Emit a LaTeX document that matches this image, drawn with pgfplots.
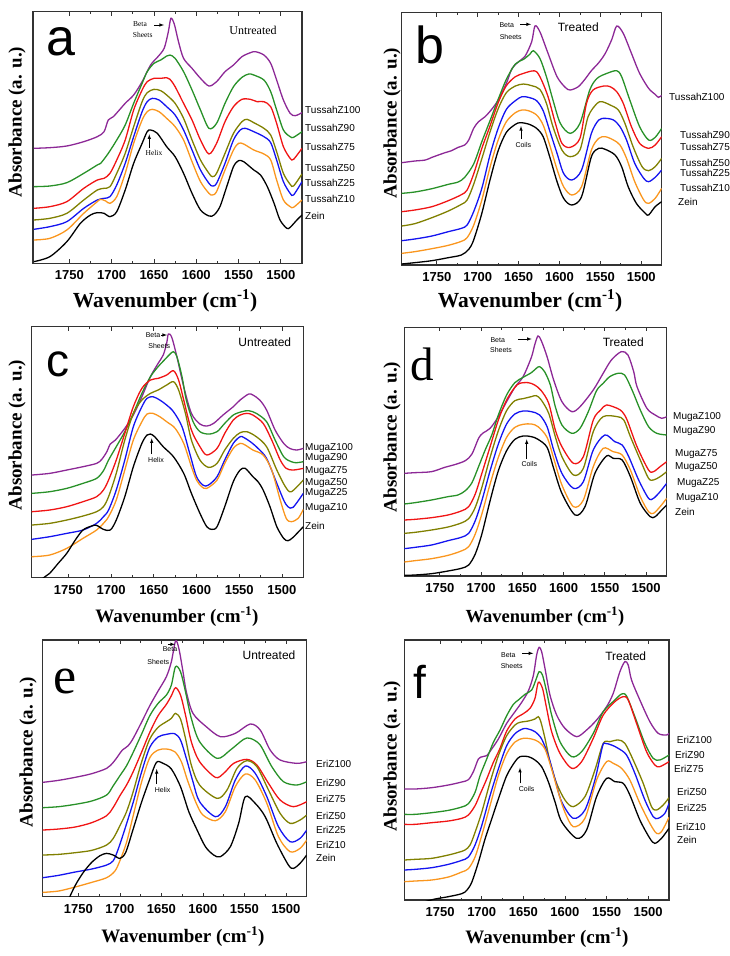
\documentclass[border=0pt]{standalone}
\usepackage{pgfplots}
\pgfplotsset{compat=1.18}
\usepackage{fontspec}
\setmainfont{Liberation Serif}
\setsansfont{Liberation Sans}

\definecolor{cP}{RGB}{140,40,150}
\definecolor{cG}{RGB}{40,145,40}
\definecolor{cR}{RGB}{240,20,20}
\definecolor{cO}{RGB}{128,128,0}
\definecolor{cB}{RGB}{20,20,240}
\definecolor{cY}{RGB}{250,150,30}
\definecolor{cK}{RGB}{0,0,0}

\pgfplotsset{
  panel/.style={
    scale only axis, x dir=reverse, xmin=1475, xmax=1793, ymin=0,
    xtick={1500,1550,...,1750}, minor x tick num=1, ytick=\empty,
    tick align=inside, major tick length=4pt, minor tick length=2.5pt,
    axis line style={line width=1.1pt, black!80},
    every tick/.style={black!80, line width=0.8pt},
    xticklabel style={font=\sffamily\bfseries\fontsize{13}{13}\selectfont, yshift=-4pt},
    /pgf/number format/assume math mode=true,
    /pgf/number format/1000 sep={},
    anchor=south west,
  },
  spec/.style={line width=1.3pt, smooth, tension=0.5},
}
\newcommand{\lab}{\sffamily\fontsize{10}{11}\selectfont}
\newcommand{\annot}{\sffamily\fontsize{7}{8}\selectfont}

\begin{document}
\begin{tikzpicture}
\useasboundingbox (0pt,0pt) rectangle (729pt,-956pt);

% ---------------- a: Tussah untreated
\begin{axis}[panel, at={(33pt,-263.3pt)}, width=269pt, height=251.6pt, ymax=755]
\addplot[spec,cP] coordinates {(1792,345)(1773,347)(1753,352)(1733,365)(1717,380)(1709,395)(1704,430)(1698,440)(1684,480)(1674,505)(1664,545)(1654,595)(1646,618)(1638,645)(1633,695)(1630,735)(1626,718)(1621,665)(1615,615)(1605,585)(1595,555)(1585,532)(1576,545)(1566,575)(1556,595)(1546,620)(1536,632)(1530,635)(1520,625)(1512,600)(1505,550)(1497,490)(1489,450)(1483,443)(1475,452)};
\addplot[spec,cG] coordinates {(1792,230)(1773,232)(1753,242)(1733,270)(1717,295)(1713,300)(1704,330)(1694,370)(1684,415)(1674,480)(1664,540)(1658,575)(1650,600)(1642,610)(1635,622)(1631,625)(1625,615)(1615,575)(1605,520)(1595,460)(1585,405)(1576,420)(1566,480)(1556,530)(1546,558)(1538,568)(1532,565)(1520,550)(1512,515)(1505,460)(1497,400)(1489,380)(1485,378)(1475,395)};
\addplot[spec,cR] coordinates {(1792,165)(1773,170)(1753,185)(1733,225)(1717,250)(1709,255)(1702,270)(1694,310)(1684,370)(1674,460)(1664,520)(1658,545)(1650,555)(1642,555)(1635,557)(1631,552)(1625,530)(1615,480)(1605,430)(1595,370)(1585,328)(1576,360)(1566,425)(1556,470)(1546,492)(1536,492)(1528,485)(1520,485)(1512,470)(1505,420)(1497,350)(1489,315)(1485,312)(1475,345)};
\addplot[spec,cO] coordinates {(1792,130)(1773,135)(1753,150)(1733,190)(1717,220)(1709,225)(1702,230)(1694,270)(1684,330)(1674,410)(1664,485)(1658,512)(1650,522)(1642,518)(1635,505)(1625,480)(1615,435)(1605,370)(1595,310)(1585,270)(1581,260)(1576,270)(1566,330)(1556,390)(1546,425)(1540,432)(1532,422)(1520,405)(1512,385)(1505,335)(1497,270)(1489,237)(1485,232)(1475,268)};
\addplot[spec,cB] coordinates {(1792,102)(1773,110)(1753,125)(1733,165)(1717,190)(1709,195)(1702,200)(1694,235)(1684,300)(1674,380)(1664,455)(1658,485)(1652,495)(1644,490)(1635,470)(1625,445)(1615,400)(1605,340)(1595,280)(1585,240)(1581,232)(1576,240)(1566,300)(1556,370)(1548,400)(1542,405)(1532,395)(1520,380)(1512,362)(1505,310)(1497,245)(1489,210)(1485,205)(1475,245)};
\addplot[spec,cY] coordinates {(1792,70)(1773,75)(1753,100)(1733,150)(1717,185)(1713,192)(1707,187)(1702,180)(1694,200)(1684,270)(1674,360)(1664,430)(1658,455)(1652,462)(1644,455)(1635,435)(1625,410)(1615,370)(1605,305)(1595,245)(1585,210)(1581,205)(1576,215)(1566,280)(1556,340)(1550,360)(1544,358)(1532,340)(1520,328)(1512,310)(1505,250)(1497,190)(1489,170)(1485,168)(1475,190)};
\addplot[spec,cK] coordinates {(1792,5)(1773,20)(1753,65)(1737,120)(1725,145)(1717,152)(1709,150)(1702,140)(1694,155)(1684,220)(1674,300)(1664,360)(1658,395)(1654,400)(1646,390)(1635,350)(1625,320)(1615,270)(1605,210)(1595,160)(1585,142)(1579,145)(1572,170)(1564,230)(1556,290)(1550,308)(1544,305)(1532,280)(1524,265)(1516,230)(1508,180)(1501,130)(1493,105)(1489,108)(1481,130)(1475,145)};
\end{axis}

% ---------------- b: Tussah treated
\begin{axis}[panel, at={(401.7pt,-265pt)}, width=260pt, height=252.3pt, ymax=757]
\addplot[spec,cP] coordinates {(1793,307)(1777,312)(1764,315)(1756,323)(1740,337)(1732,343)(1724,353)(1716,360)(1711,375)(1705,410)(1699,430)(1691,445)(1683,467)(1675,495)(1665,545)(1658,590)(1650,610)(1642,627)(1634,670)(1630,717)(1624,700)(1614,635)(1603,565)(1593,533)(1587,525)(1577,535)(1569,557)(1561,583)(1552,607)(1544,635)(1536,677)(1530,717)(1522,695)(1512,635)(1502,575)(1491,530)(1483,512)(1479,503)(1475,509)};
\addplot[spec,cG] coordinates {(1793,215)(1777,219)(1756,229)(1736,242)(1724,249)(1716,263)(1705,303)(1695,370)(1685,433)(1675,497)(1665,557)(1654,603)(1644,617)(1636,633)(1632,643)(1624,620)(1616,565)(1608,495)(1599,425)(1587,395)(1575,425)(1563,525)(1554,560)(1542,575)(1530,583)(1524,565)(1514,495)(1502,415)(1491,375)(1483,383)(1475,410)};
\addplot[spec,cR] coordinates {(1793,160)(1777,165)(1756,175)(1736,193)(1720,211)(1713,225)(1705,273)(1695,350)(1685,417)(1675,487)(1665,538)(1654,565)(1644,575)(1634,582)(1628,580)(1622,555)(1614,505)(1605,425)(1597,365)(1587,353)(1575,380)(1567,485)(1559,525)(1546,537)(1538,535)(1530,520)(1522,485)(1512,415)(1502,365)(1491,350)(1483,360)(1475,385)};
\addplot[spec,cO] coordinates {(1793,117)(1777,124)(1756,142)(1736,162)(1720,182)(1713,195)(1705,242)(1695,319)(1685,399)(1675,469)(1665,517)(1654,537)(1644,543)(1634,538)(1624,527)(1616,485)(1608,415)(1597,345)(1587,325)(1575,345)(1565,445)(1554,485)(1548,490)(1538,480)(1528,465)(1520,425)(1510,355)(1499,295)(1491,283)(1483,295)(1475,320)};
\addplot[spec,cB] coordinates {(1793,73)(1777,78)(1756,87)(1736,100)(1720,110)(1713,120)(1705,160)(1695,230)(1685,330)(1675,410)(1665,467)(1654,493)(1646,505)(1638,503)(1628,493)(1620,463)(1612,403)(1603,335)(1595,275)(1585,255)(1573,285)(1561,395)(1552,435)(1544,440)(1534,435)(1526,415)(1518,375)(1508,305)(1497,260)(1491,250)(1483,263)(1475,285)};
\addplot[spec,cY] coordinates {(1793,35)(1777,40)(1756,49)(1736,59)(1720,71)(1713,82)(1705,119)(1695,195)(1685,293)(1675,375)(1665,430)(1654,457)(1646,465)(1638,463)(1628,450)(1620,420)(1612,360)(1603,287)(1595,235)(1585,210)(1573,235)(1561,345)(1552,380)(1544,385)(1534,375)(1526,360)(1518,320)(1508,250)(1497,195)(1491,185)(1483,200)(1475,230)};
\addplot[spec,cK] coordinates {(1793,3)(1777,7)(1756,13)(1736,22)(1720,30)(1711,47)(1705,75)(1695,155)(1685,255)(1675,343)(1665,398)(1654,422)(1648,427)(1638,423)(1628,410)(1620,385)(1612,325)(1603,250)(1595,200)(1585,180)(1573,205)(1561,325)(1552,350)(1544,347)(1532,330)(1524,295)(1516,235)(1506,185)(1495,155)(1491,150)(1483,175)(1475,190)};
\end{axis}

% ---------------- c: Muga untreated
\begin{axis}[panel, at={(31.7pt,-577.7pt)}, width=271.6pt, height=251pt, ymax=753]
\addplot[spec,cP] coordinates {(1793,308)(1772,313)(1752,323)(1733,333)(1717,343)(1711,355)(1705,378)(1701,401)(1695,413)(1684,448)(1674,488)(1664,543)(1654,603)(1645,643)(1639,668)(1635,703)(1633,731)(1629,721)(1623,663)(1615,573)(1606,493)(1596,461)(1588,455)(1580,463)(1569,488)(1557,513)(1549,533)(1539,551)(1534,548)(1526,533)(1518,503)(1508,443)(1498,403)(1491,388)(1483,383)(1475,388)};
\addplot[spec,cG] coordinates {(1793,253)(1772,258)(1752,268)(1733,283)(1717,298)(1709,321)(1703,353)(1694,393)(1684,438)(1674,493)(1664,553)(1654,603)(1645,633)(1637,655)(1631,671)(1627,678)(1623,663)(1617,603)(1612,533)(1604,468)(1596,438)(1586,431)(1576,438)(1567,463)(1557,488)(1547,498)(1539,501)(1530,493)(1518,468)(1508,413)(1498,363)(1489,348)(1483,345)(1475,348)};
\addplot[spec,cR] coordinates {(1793,198)(1772,203)(1752,213)(1733,228)(1717,243)(1709,263)(1703,293)(1694,353)(1684,433)(1674,513)(1664,568)(1654,593)(1645,598)(1635,608)(1627,621)(1621,593)(1615,533)(1606,443)(1596,393)(1588,368)(1576,388)(1567,433)(1557,473)(1549,488)(1541,493)(1534,488)(1522,463)(1512,413)(1502,353)(1495,328)(1487,323)(1475,328)};
\addplot[spec,cO] coordinates {(1793,158)(1772,163)(1752,173)(1733,185)(1717,198)(1709,213)(1703,243)(1694,313)(1684,413)(1674,493)(1664,533)(1654,553)(1645,563)(1635,578)(1627,588)(1621,563)(1613,493)(1606,413)(1596,353)(1586,331)(1576,343)(1567,383)(1557,418)(1549,435)(1541,438)(1530,423)(1518,393)(1506,323)(1496,273)(1489,258)(1475,293)};
\addplot[spec,cB] coordinates {(1793,115)(1772,123)(1752,133)(1733,143)(1717,163)(1709,183)(1703,203)(1694,263)(1684,353)(1674,453)(1664,513)(1658,538)(1651,543)(1643,533)(1635,518)(1627,498)(1617,453)(1608,373)(1600,303)(1592,277)(1586,278)(1576,303)(1567,353)(1557,403)(1549,423)(1545,421)(1537,408)(1528,388)(1518,358)(1506,283)(1498,233)(1493,213)(1487,211)(1475,253)};
\addplot[spec,cY] coordinates {(1793,63)(1772,68)(1752,88)(1733,118)(1717,143)(1709,163)(1703,183)(1694,233)(1684,323)(1674,413)(1664,468)(1658,491)(1651,493)(1643,483)(1635,468)(1625,448)(1615,403)(1606,333)(1600,293)(1594,273)(1588,268)(1576,293)(1567,343)(1557,388)(1549,403)(1543,398)(1534,383)(1522,368)(1512,323)(1502,233)(1495,178)(1489,168)(1481,178)(1475,205)};
\addplot[spec,cK] coordinates {(1793,-27)(1779,0)(1772,13)(1762,43)(1752,73)(1742,113)(1733,143)(1723,155)(1717,157)(1709,145)(1701,143)(1694,173)(1684,243)(1674,333)(1664,403)(1658,428)(1654,431)(1649,423)(1639,393)(1627,363)(1615,313)(1606,253)(1596,193)(1588,153)(1582,145)(1576,153)(1567,213)(1557,288)(1549,323)(1543,328)(1534,303)(1528,288)(1522,263)(1514,213)(1506,153)(1498,118)(1493,111)(1487,121)(1475,153)};
\end{axis}

% ---------------- d: Muga treated
\begin{axis}[panel, at={(404.3pt,-576pt)}, width=262.4pt, height=248.7pt, ymax=746]
\addplot[spec,cP] coordinates {(1793,308)(1780,310)(1760,313)(1744,326)(1732,334)(1719,346)(1711,366)(1703,413)(1698,428)(1689,443)(1679,478)(1669,523)(1659,566)(1649,598)(1639,656)(1635,693)(1631,720)(1627,706)(1620,658)(1612,588)(1602,523)(1590,493)(1580,508)(1564,558)(1552,608)(1542,648)(1530,673)(1522,663)(1515,613)(1511,568)(1499,503)(1489,483)(1481,473)(1475,478)};
\addplot[spec,cG] coordinates {(1793,216)(1780,220)(1760,228)(1740,238)(1728,243)(1719,256)(1711,280)(1703,328)(1695,378)(1687,423)(1679,483)(1669,543)(1659,580)(1649,596)(1639,610)(1633,623)(1629,628)(1623,613)(1616,573)(1610,508)(1602,453)(1590,428)(1580,443)(1570,493)(1560,556)(1552,578)(1544,598)(1534,608)(1526,603)(1517,558)(1507,498)(1497,448)(1487,428)(1475,423)};
\addplot[spec,cR] coordinates {(1793,168)(1780,170)(1760,175)(1740,183)(1724,195)(1715,208)(1707,246)(1699,308)(1689,388)(1679,468)(1669,528)(1659,566)(1653,578)(1643,580)(1635,573)(1627,556)(1618,518)(1610,438)(1602,388)(1588,338)(1576,358)(1564,468)(1555,498)(1548,513)(1535,503)(1529,493)(1523,468)(1511,388)(1497,318)(1491,313)(1483,328)(1475,343)};
\addplot[spec,cO] coordinates {(1793,128)(1780,131)(1760,138)(1740,147)(1724,159)(1715,172)(1707,206)(1699,266)(1689,356)(1679,436)(1669,496)(1659,526)(1649,532)(1639,538)(1633,541)(1627,528)(1618,488)(1610,418)(1602,358)(1588,303)(1576,323)(1564,433)(1552,478)(1535,478)(1527,468)(1519,418)(1507,348)(1497,293)(1491,288)(1483,298)(1475,313)};
\addplot[spec,cB] coordinates {(1793,82)(1780,86)(1760,93)(1740,106)(1724,116)(1715,128)(1707,166)(1699,226)(1689,316)(1679,396)(1669,456)(1659,486)(1649,495)(1639,493)(1629,483)(1620,448)(1612,378)(1602,308)(1588,263)(1576,283)(1564,378)(1550,423)(1538,403)(1529,393)(1521,358)(1509,288)(1497,233)(1491,233)(1483,253)(1475,278)};
\addplot[spec,cY] coordinates {(1793,42)(1780,46)(1760,52)(1740,62)(1724,75)(1715,88)(1707,126)(1699,186)(1689,276)(1679,356)(1669,416)(1659,446)(1649,455)(1639,456)(1631,448)(1620,416)(1612,353)(1602,273)(1588,208)(1576,228)(1564,328)(1552,383)(1540,373)(1529,363)(1519,318)(1507,238)(1497,193)(1491,188)(1483,208)(1475,233)};
\addplot[spec,cK] coordinates {(1793,2)(1780,3)(1760,7)(1740,15)(1724,23)(1715,33)(1707,66)(1699,126)(1689,226)(1679,316)(1669,376)(1659,410)(1649,420)(1639,418)(1631,410)(1620,386)(1612,323)(1602,248)(1586,183)(1574,208)(1562,308)(1548,360)(1540,353)(1529,348)(1519,298)(1507,218)(1495,178)(1489,178)(1481,198)(1475,213)};
\end{axis}

% ---------------- e: Eri untreated
\begin{axis}[panel, at={(42.7pt,-896.7pt)}, width=264pt, height=256.7pt, ymax=770]
\addplot[spec,cP] coordinates {(1793,343)(1774,349)(1754,358)(1734,369)(1716,385)(1708,403)(1702,423)(1697,440)(1690,453)(1684,475)(1674,523)(1664,573)(1654,617)(1644,660)(1638,705)(1633,767)(1629,745)(1624,675)(1620,615)(1612,550)(1596,510)(1579,480)(1561,490)(1543,518)(1531,500)(1519,440)(1507,410)(1487,400)(1475,405)};
\addplot[spec,cG] coordinates {(1793,267)(1774,270)(1754,277)(1734,287)(1716,305)(1708,333)(1700,363)(1692,393)(1684,433)(1674,487)(1664,543)(1654,580)(1644,605)(1638,635)(1633,690)(1627,675)(1621,615)(1614,535)(1604,465)(1583,415)(1567,440)(1551,472)(1543,475)(1531,455)(1517,390)(1503,345)(1487,335)(1475,345)};
\addplot[spec,cR] coordinates {(1793,200)(1774,203)(1754,209)(1734,222)(1716,243)(1708,268)(1700,303)(1692,335)(1684,375)(1674,433)(1664,493)(1654,543)(1644,577)(1638,603)(1633,627)(1627,605)(1621,545)(1614,465)(1604,405)(1585,358)(1575,370)(1563,400)(1547,412)(1535,395)(1521,340)(1507,290)(1491,270)(1475,285)};
\addplot[spec,cO] coordinates {(1793,125)(1774,127)(1754,132)(1734,139)(1716,155)(1708,175)(1700,213)(1692,255)(1684,315)(1674,403)(1664,473)(1654,508)(1644,525)(1638,535)(1633,550)(1627,533)(1621,475)(1614,395)(1604,335)(1583,295)(1571,320)(1559,385)(1547,408)(1535,390)(1521,320)(1507,250)(1495,220)(1483,230)(1475,245)};
\addplot[spec,cB] coordinates {(1793,57)(1774,64)(1754,74)(1734,83)(1716,95)(1708,108)(1702,143)(1694,203)(1684,283)(1674,373)(1664,448)(1654,479)(1644,487)(1634,489)(1627,470)(1620,415)(1612,345)(1604,285)(1585,240)(1573,270)(1561,350)(1549,392)(1537,370)(1523,300)(1509,210)(1495,165)(1483,175)(1475,200)};
\addplot[spec,cY] coordinates {(1793,13)(1774,17)(1754,29)(1734,43)(1716,57)(1706,77)(1700,108)(1692,163)(1684,243)(1674,343)(1664,417)(1654,440)(1644,443)(1634,435)(1626,405)(1618,345)(1608,280)(1600,245)(1585,228)(1573,255)(1561,330)(1549,368)(1537,350)(1523,280)(1509,180)(1495,135)(1483,145)(1475,170)};
\addplot[spec,cK] coordinates {(1764,-20)(1754,33)(1744,73)(1734,103)(1724,123)(1716,130)(1708,125)(1700,115)(1693,133)(1684,203)(1674,283)(1664,353)(1656,403)(1648,400)(1638,383)(1627,330)(1617,255)(1607,200)(1597,150)(1587,125)(1579,120)(1567,150)(1557,220)(1549,300)(1537,280)(1525,240)(1511,160)(1497,95)(1491,85)(1483,100)(1475,125)};
\end{axis}

% ---------------- f: Eri treated
\begin{axis}[panel, at={(404.3pt,-900pt)}, width=264.7pt, height=260pt, ymax=780]
\addplot[spec,cP] coordinates {(1793,333)(1780,333)(1760,337)(1740,345)(1724,354)(1716,361)(1710,385)(1704,423)(1699,430)(1694,433)(1688,453)(1680,483)(1670,530)(1660,565)(1652,593)(1644,627)(1638,673)(1634,735)(1631,758)(1628,745)(1624,695)(1618,615)(1610,555)(1600,515)(1586,490)(1574,510)(1562,540)(1550,580)(1542,620)(1534,685)(1528,715)(1524,705)(1520,660)(1510,600)(1498,535)(1488,500)(1478,495)(1475,500)};
\addplot[spec,cG] coordinates {(1793,257)(1780,257)(1760,262)(1740,269)(1724,279)(1716,289)(1708,323)(1702,373)(1694,423)(1686,473)(1678,510)(1670,553)(1662,587)(1656,600)(1648,617)(1640,630)(1635,660)(1631,685)(1627,675)(1622,625)(1616,555)(1606,475)(1592,430)(1580,445)(1566,500)(1554,565)(1540,600)(1532,618)(1526,612)(1516,550)(1504,470)(1494,425)(1486,420)(1475,435)};
\addplot[spec,cR] coordinates {(1793,227)(1780,227)(1760,232)(1740,237)(1724,245)(1716,255)(1708,283)(1702,317)(1694,363)(1686,413)(1678,455)(1670,507)(1660,543)(1650,559)(1642,575)(1636,605)(1632,653)(1627,635)(1622,575)(1616,505)(1606,440)(1592,395)(1580,415)(1566,485)(1554,555)(1540,595)(1530,610)(1524,600)(1514,530)(1502,445)(1492,405)(1486,400)(1475,415)};
\addplot[spec,cO] coordinates {(1793,120)(1780,122)(1760,125)(1740,135)(1728,143)(1720,150)(1714,165)(1708,203)(1700,263)(1690,353)(1680,433)(1670,493)(1660,525)(1654,533)(1644,537)(1636,543)(1632,550)(1629,535)(1624,485)(1618,415)(1610,350)(1600,300)(1590,280)(1576,310)(1564,390)(1554,470)(1546,475)(1536,480)(1528,470)(1518,420)(1506,350)(1496,280)(1490,270)(1482,285)(1475,307)};
\addplot[spec,cB] coordinates {(1793,90)(1780,92)(1760,97)(1740,107)(1724,119)(1716,129)(1708,165)(1700,223)(1690,313)(1680,393)(1670,463)(1660,499)(1650,514)(1644,513)(1636,505)(1628,483)(1620,433)(1612,363)(1604,295)(1590,245)(1576,270)(1564,360)(1555,460)(1552,470)(1544,465)(1536,455)(1526,435)(1516,380)(1504,300)(1494,250)(1488,245)(1480,260)(1475,290)};
\addplot[spec,cY] coordinates {(1793,55)(1780,57)(1760,60)(1740,69)(1724,84)(1716,94)(1708,129)(1700,193)(1690,283)(1680,373)(1670,439)(1660,474)(1650,485)(1640,483)(1632,475)(1624,453)(1616,393)(1608,323)(1600,263)(1590,220)(1576,245)(1562,360)(1550,415)(1542,410)(1532,395)(1522,360)(1510,290)(1498,230)(1490,200)(1484,205)(1475,248)};
\addplot[spec,cK] coordinates {(1768,-5)(1756,3)(1740,10)(1724,19)(1718,29)(1712,53)(1704,113)(1696,183)(1688,243)(1680,303)(1670,373)(1660,415)(1654,430)(1644,430)(1636,420)(1628,400)(1620,355)(1612,295)(1604,235)(1586,185)(1574,210)(1562,310)(1550,365)(1540,355)(1530,350)(1522,315)(1510,240)(1498,185)(1492,170)(1484,185)(1475,215)};
\end{axis}

% ---------------- axis titles
\begin{scope}[every node/.style={inner sep=0pt}]
\foreach \x/\y/\s in {165/307/21.5, 530/307/21.5, 177/622/19, 545/622/18.5, 183/942/19, 547/943/19}{
  \node[anchor=base, font=\bfseries\fontsize{\s}{\s}\selectfont] at (\x pt,-\y pt) {Wavenumber (cm\textsuperscript{-1})};
}
\foreach \x/\y in {17/122, 392/123, 17/435, 392/437, 28/752, 392/756}{
  \node[rotate=90, font=\bfseries\fontsize{19}{19}\selectfont] at (\x pt,-\y pt) {Absorbance (a. u.)};
}

% panel letters
\node[anchor=base west, font=\sffamily\fontsize{52}{52}\selectfont] at (46pt,-55pt) {a};
\node[anchor=base west, font=\sffamily\fontsize{52}{52}\selectfont] at (415pt,-63pt) {b};
\node[anchor=base west, font=\sffamily\fontsize{46}{46}\selectfont] at (46.7pt,-376.7pt) {c};
\node[anchor=base west, font=\fontsize{47}{47}\selectfont] at (410pt,-380pt) {d};
\node[anchor=base west, font=\fontsize{52}{52}\selectfont] at (53.3pt,-693.3pt) {e};
\node[anchor=base west, font=\sffamily\fontsize{46}{46}\selectfont] at (413.3pt,-698.3pt) {f};

% treated / untreated
\node[font=\fontsize{12}{12}\selectfont] at (253pt,-30.7pt) {Untreated};
\node[font=\sffamily\fontsize{12}{12}\selectfont] at (578.3pt,-27.3pt) {Treated};
\node[font=\sffamily\fontsize{12}{12}\selectfont] at (264.8pt,-342.7pt) {Untreated};
\node[font=\sffamily\fontsize{12}{12}\selectfont] at (623.3pt,-342.7pt) {Treated};
\node[font=\sffamily\fontsize{12}{12}\selectfont] at (269pt,-655.7pt) {Untreated};
\node[font=\sffamily\fontsize{12}{12}\selectfont] at (625.7pt,-656.7pt) {Treated};

% series names
\foreach \n/\y in {TussahZ100/110, TussahZ90/127.7, TussahZ75/146.7, TussahZ50/168.3, TussahZ25/183.3, TussahZ10/199.3, Zein/216}{
  \node[anchor=west, font=\lab] at (305pt,-\y pt) {\n};
}
\node[anchor=west, font=\lab] at (669pt,-96.7pt) {TussahZ100};
\foreach \n/\y in {TussahZ90/135, TussahZ75/146.7, TussahZ50/163.3, TussahZ25/173.3, TussahZ10/188.3}{
  \node[anchor=west, font=\lab] at (680pt,-\y pt) {\n};
}
\node[anchor=west, font=\lab] at (678pt,-201.7pt) {Zein};
\foreach \n/\y in {MugaZ100/447.7, MugaZ90/458.3, MugaZ75/471, MugaZ50/482.7, MugaZ25/493.3, MugaZ10/508.3, Zein/525.7}{
  \node[anchor=west, font=\lab] at (305pt,-\y pt) {\n};
}
\foreach \n/\x/\y in {MugaZ100/673/417.3, MugaZ90/673/431, MugaZ75/675/454, MugaZ50/675/466.7, MugaZ25/677/482.7, MugaZ10/676/497.7, Zein/675/512}{
  \node[anchor=west, font=\lab] at (\x pt,-\y pt) {\n};
}
\foreach \n/\y in {EriZ100/764, EriZ90/782.7, EriZ75/799, EriZ50/816, EriZ25/830, EriZ10/845, Zein/858.3}{
  \node[anchor=west, font=\lab] at (316pt,-\y pt) {\n};
}
\foreach \n/\x/\y in {EriZ100/676.7/740.3, EriZ90/675/755, EriZ75/674/769, EriZ50/677/791.7, EriZ25/677/807.7, EriZ10/676/826.7, Zein/677/840}{
  \node[anchor=west, font=\lab] at (\x pt,-\y pt) {\n};
}

% beta sheets / helix / coils
\node[font=\fontsize{7.5}{8}\selectfont] at (140pt,-24pt) {Beta};
\node[font=\fontsize{7.5}{8}\selectfont] at (142.7pt,-35pt) {Sheets};
\draw[-latex, line width=0.6pt] (154pt,-25pt) -- (164pt,-25pt);
\node[font=\fontsize{7.5}{8}\selectfont] at (154pt,-153.3pt) {Helix};
\draw[-latex, line width=0.6pt] (149.3pt,-148pt) -- (149.3pt,-134.3pt);

\node[font=\annot] at (506.7pt,-25pt) {Beta};
\node[font=\annot] at (510.7pt,-36.7pt) {Sheets};
\draw[-latex, line width=0.6pt] (520pt,-24.3pt) -- (531pt,-24.3pt);
\node[font=\annot] at (523.3pt,-145pt) {Coils};
\draw[-latex, line width=0.6pt] (521pt,-139pt) -- (521pt,-126pt);

\node[font=\annot] at (153pt,-335pt) {Beta};
\node[font=\annot] at (159.3pt,-345.7pt) {Sheets};
\draw[-latex, line width=0.6pt] (161pt,-335pt) -- (167pt,-335pt);
\node[font=\annot] at (156pt,-460pt) {Helix};
\draw[-latex, line width=0.6pt] (151.7pt,-454pt) -- (151.7pt,-438.3pt);

\node[font=\annot] at (497.7pt,-340pt) {Beta};
\node[font=\annot] at (501pt,-350pt) {Sheets};
\draw[-latex, line width=0.6pt] (518.3pt,-339pt) -- (531.7pt,-339pt);
\node[font=\annot] at (529.3pt,-464pt) {Coils};
\draw[-latex, line width=0.6pt] (526.7pt,-459pt) -- (526.7pt,-439.3pt);

\node[font=\annot] at (170pt,-649.3pt) {Beta};
\node[font=\annot] at (158.3pt,-661.7pt) {Sheets};
\draw[-latex, line width=0.6pt] (168.3pt,-644.3pt) -- (175pt,-644.3pt);
\node[font=\annot] at (162.7pt,-790pt) {Helix};
\draw[-latex, line width=0.6pt] (156.7pt,-784pt) -- (156.7pt,-769pt);

\node[font=\annot] at (508.3pt,-655pt) {Beta};
\node[font=\annot] at (511.7pt,-665.7pt) {Sheets};
\draw[-latex, line width=0.6pt] (522.3pt,-653.3pt) -- (533.3pt,-653.3pt);
\node[font=\annot] at (526.7pt,-789pt) {Coils};
\draw[-latex, line width=0.6pt] (520pt,-783.3pt) -- (520pt,-767.7pt);
\end{scope}
\end{tikzpicture}
\end{document}
